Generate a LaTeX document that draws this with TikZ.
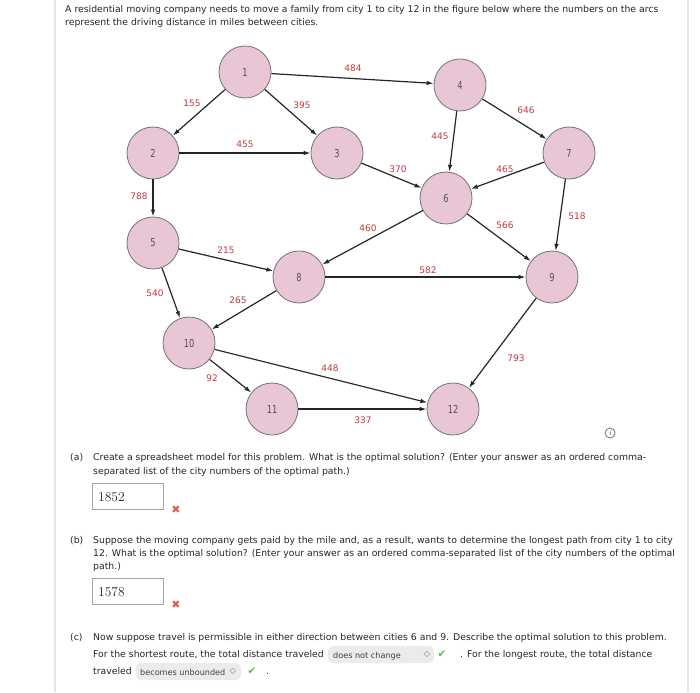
\documentclass[tikz,border=0pt]{standalone}
\usepackage{fontspec}
\newfontfamily\dv{DejaVu Sans}
\newfontfamily\dvn[FakeStretch=0.75]{DejaVu Sans}
\usetikzlibrary{arrows.meta}
\definecolor{pinkc}{HTML}{E8C6D6}
\definecolor{labred}{HTML}{C0393F}
\definecolor{xred}{HTML}{E35B5B}
\definecolor{okgreen}{HTML}{5DB85C}
\tikzset{
  city/.style={circle, draw=black!55, fill=pinkc, minimum size=52pt, inner sep=0pt, line width=0.8pt,
    font=\dvn\fontsize{11}{12}\selectfont, text=black!68},
  edge/.style={-{Latex[length=7pt,width=4.5pt]}, line width=1.2pt, draw=black!85},
  lbl/.style={font=\dv\fontsize{9}{10}\selectfont, text=labred, inner sep=0pt},
  txt/.style={anchor=base west, inner sep=0pt, font=\dv\fontsize{9.3}{11}\selectfont, text=black!85},
  ansbox/.style={draw=black!35, line width=0.9pt, minimum width=71pt, minimum height=26pt, inner sep=0pt},
  anstxt/.style={anchor=base west, inner sep=0pt, font=\fontsize{13.5}{15}\selectfont, text=black!85},
  markglyph/.style={inner sep=0pt, font=\dv\fontsize{11}{12}\selectfont},
  dropbox/.style={fill=black!8, rounded corners=5pt, draw=none},
  droptxt/.style={anchor=base west, inner sep=0pt, font=\dv\fontsize{8.1}{9}\selectfont, text=black!75},
}
\begin{document}
\begin{tikzpicture}[x=1pt,y=-1pt]
\useasboundingbox (0,0) rectangle (700,692);
\fill[white] (0,0) rectangle (700,692);
\draw[black!10, line width=1.5pt] (55,0) -- (55,692);
\draw[black!10, line width=1.5pt] (688,0) -- (688,692);

% header text
\node[txt] (t1) at (65,12.5) {A residential moving company needs to move a family from city 1 to city 12 in the figure below where the numbers on the arcs};
\node[txt] (t2) at (65,25.5) {represent the driving distance in miles between cities.};

% cities
\node[city] (n1) at (245,72) {1};
\node[city] (n2) at (153,153) {2};
\node[city] (n3) at (337,153) {3};
\node[city] (n4) at (460,85) {4};
\node[city] (n5) at (153,243) {5};
\node[city] (n6) at (446,198) {6};
\node[city] (n7) at (569,153) {7};
\node[city] (n8) at (299,277) {8};
\node[city] (n9) at (552,277) {9};
\node[city] (n10) at (189,343) {10};
\node[city] (n11) at (272,409) {11};
\node[city] (n12) at (453,409) {12};

% arcs
\draw[edge] (n1) -- (n2);
\draw[edge] (n1) -- (n3);
\draw[edge] (n1) -- (n4);
\draw[edge] (n2) -- (n3);
\draw[edge] (n2) -- (n5);
\draw[edge] (n3) -- (n6);
\draw[edge] (n4) -- (n6);
\draw[edge] (n4) -- (n7);
\draw[edge] (n7) -- (n6);
\draw[edge] (n7) -- (n9);
\draw[edge] (n6) -- (n8);
\draw[edge] (n6) -- (n9);
\draw[edge] (n5) -- (n8);
\draw[edge] (n5) -- (n10);
\draw[edge] (n8) -- (n10);
\draw[edge] (n8) -- (n9);
\draw[edge] (n10) -- (n11);
\draw[edge] (n10) -- (n12);
\draw[edge] (n11) -- (n12);
\draw[edge] (n9) -- (n12);

% arc labels
\node[lbl] (l14) at (353,68) {484};
\node[lbl] (l12) at (192,103) {155};
\node[lbl] (l13) at (302,105) {395};
\node[lbl] (l23) at (245,144) {455};
\node[lbl] (l47) at (526,110) {646};
\node[lbl] (l46) at (440,136) {445};
\node[lbl] (l36) at (398,169) {370};
\node[lbl] (l76) at (505,169) {465};
\node[lbl] (l25) at (139,196) {788};
\node[lbl] (l68) at (368,228) {460};
\node[lbl] (l69) at (505,225) {566};
\node[lbl] (l79) at (577,216) {518};
\node[lbl] (l58) at (226,250) {215};
\node[lbl] (l89) at (428,270) {582};
\node[lbl] (l510) at (155,293) {540};
\node[lbl] (l810) at (238,300) {265};
\node[lbl] (l1012) at (330,368) {448};
\node[lbl] (l1011) at (212,378) {92};
\node[lbl] (l912) at (516,358) {793};
\node[lbl] (l1112) at (363,420) {337};

% info icon
\node[circle, draw=black!60, line width=0.7pt, minimum size=10pt, inner sep=0pt,
  font=\fontsize{8}{8}\selectfont\itshape, text=black!70] (info) at (610,433) {i};

% (a)
\node[txt] (qa) at (70,460) {(a)};
\node[txt] (qa1) at (93,460) {Create a spreadsheet model for this problem. What is the optimal solution? (Enter your answer as an ordered comma-};
\node[txt] (qa2) at (93,474) {separated list of the city numbers of the optimal path.)};
\node[ansbox] (boxa) at (127.5,496) {};
\node[anstxt] (ansa) at (98,501) {1852};
\node[markglyph, text=xred] (xa) at (176,510) {✖};

% (b)
\node[txt] (qb) at (70,543) {(b)};
\node[txt] (qb1) at (93,543) {Suppose the moving company gets paid by the mile and, as a result, wants to determine the longest path from city 1 to city};
\node[txt] (qb2) at (93,556) {12. What is the optimal solution? (Enter your answer as an ordered comma-separated list of the city numbers of the optimal};
\node[txt] (qb3) at (93,569) {path.)};
\node[ansbox] (boxb) at (127.5,591) {};
\node[anstxt] (ansb) at (98,596) {1578};
\node[markglyph, text=xred] (xb) at (176,605) {✖};

% (c)
\node[txt] (qc) at (70,640) {(c)};
\node[txt] (qc1) at (93,640) {Now suppose travel is permissible in either direction between cities 6 and 9. Describe the optimal solution to this problem.};
\node[txt] (qc2) at (93,657) {For the shortest route, the total distance traveled};
\fill[dropbox] (328,646) rectangle (434,663);
\node[droptxt] (d1) at (333,658) {does not change};
\node[markglyph, text=black!55, font=\dv\fontsize{8}{8}\selectfont] (d1i) at (427,654.5) {◇};
\node[markglyph, text=okgreen, font=\dv\fontsize{10.5}{11}\selectfont] (c1) at (442,654.5) {✔};
\node[txt] (qc3) at (460,657) {. For the longest route, the total distance};
\node[txt] (qc4) at (93,674) {traveled};
\fill[dropbox] (136,663) rectangle (241,680);
\node[droptxt] (d2) at (140,675) {becomes unbounded};
\node[markglyph, text=black!55, font=\dv\fontsize{8}{8}\selectfont] (d2i) at (233,671.5) {◇};
\node[markglyph, text=okgreen, font=\dv\fontsize{10.5}{11}\selectfont] (c2) at (252,671.5) {✔};
\node[txt] (qc5) at (266,674) {.};
\end{tikzpicture}
\end{document}
